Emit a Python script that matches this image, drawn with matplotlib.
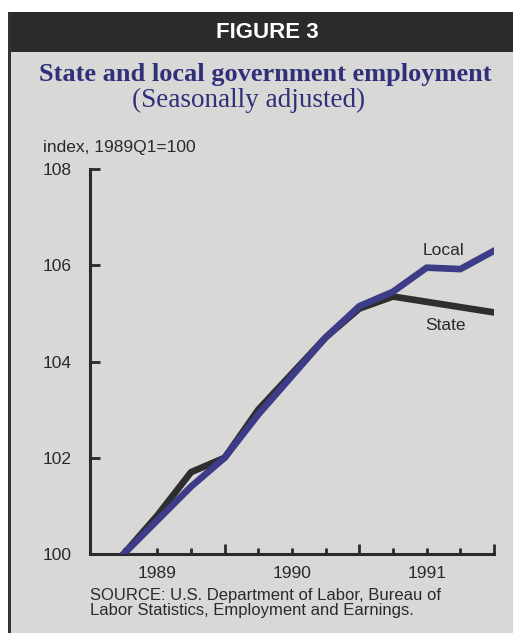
import matplotlib.pyplot as plt
from matplotlib.patches import Rectangle

# quarter positions (0 = left edge of axis), index 1989Q1 = 100
quarters = [1, 2, 3, 4, 5, 6, 7, 8, 9, 10, 11, 12]
state = [100.0, 100.8, 101.7, 102.0, 103.0, 103.75, 104.5, 105.1, 105.35, 105.24, 105.13, 105.02]
local = [100.0, 100.7, 101.4, 102.0, 102.9, 103.7, 104.5, 105.15, 105.45, 105.95, 105.92, 106.3]
year_labels = ["1989", "1990", "1991"]
year_pos = [2, 6, 10]
y_ticks = [100, 102, 104, 106, 108]

W, H = 513, 633
fig = plt.figure(figsize=(W / 100, H / 100), dpi=100)
fig.patch.set_facecolor("white")

def px(x, y):
    return x / W, 1 - y / H

bg = "#d8d8d6"
ink = "#2a2a2a"
navy = "#2f2f7a"

# panel background, header band, left border
for xy, w, h, c in [((8, 633), W - 8, 633 - 52, bg),
                    ((8, 52), W - 8, 40, "#2b2b2b"),
                    ((8, 633), 2.5, 633 - 12, "#333333")]:
    fig.patches.append(Rectangle(px(*xy), w / W, h / H, transform=fig.transFigure,
                                 facecolor=c, edgecolor="none", zorder=-5))

fig.text(*px(267, 32), "FIGURE 3", color="white", fontsize=16, fontweight="bold",
         family="Liberation Sans", ha="center", va="center")
fig.text(*px(265, 75), "State and local government employment", color=navy, fontsize=19,
         fontweight="bold", family="Liberation Serif", ha="center", va="center")
fig.text(*px(249, 100), "(Seasonally adjusted)", color=navy, fontsize=19.5,
         family="Liberation Serif", ha="center", va="center")
fig.text(*px(43, 147), "index, 1989Q1=100", color=ink, fontsize=12.5,
         family="Liberation Sans", ha="left", va="center")
fig.text(*px(90, 603), "SOURCE: U.S. Department of Labor, Bureau of\nLabor Statistics, Employment and Earnings.",
         color=ink, fontsize=12, family="Liberation Sans", ha="left", va="center", linespacing=0.95)

l, r, t, b = 90, 494, 169, 554
ax = fig.add_axes([l / W, 1 - b / H, (r - l) / W, (b - t) / H])
ax.set_facecolor("none")
ax.plot(quarters, local, color="#3d3c88", lw=4.8, zorder=3)
ax.plot(quarters, state, color="#2e2e2e", lw=4.8, zorder=2)
ax.set_xlim(0, 12)
ax.set_ylim(100, 108)

for s in ["top", "right"]:
    ax.spines[s].set_visible(False)
for s in ["left", "bottom"]:
    ax.spines[s].set_linewidth(2.2)
    ax.spines[s].set_color(ink)

ax.set_yticks(y_ticks)
ax.set_yticklabels([str(v) for v in y_ticks])
ax.tick_params(axis="y", direction="in", length=7, width=2, color=ink, pad=47 * 0.72,
               labelsize=12.5, labelcolor=ink)
for lab in ax.get_yticklabels():
    lab.set_ha("left")
    lab.set_family("Liberation Sans")

ax.set_xticks([4, 8, 12])
ax.set_xticks([1, 2, 3, 5, 6, 7, 9, 10, 11], minor=True)
ax.set_xticklabels([])
ax.tick_params(axis="x", which="major", direction="in", length=7.5, width=2, color=ink)
ax.tick_params(axis="x", which="minor", direction="in", length=4, width=2, color=ink)
for name, p in zip(year_labels, year_pos):
    ax.text(p, -0.03, name, transform=ax.get_xaxis_transform(), ha="center", va="top",
            fontsize=12.5, color=ink, family="Liberation Sans")

ax.text(10.5, 106.15, "Local", fontsize=12.5, color=ink, family="Liberation Sans", ha="center", va="bottom")
ax.text(10.55, 104.9, "State", fontsize=12.5, color=ink, family="Liberation Sans", ha="center", va="top")

fig.savefig("out.png", dpi=100)
